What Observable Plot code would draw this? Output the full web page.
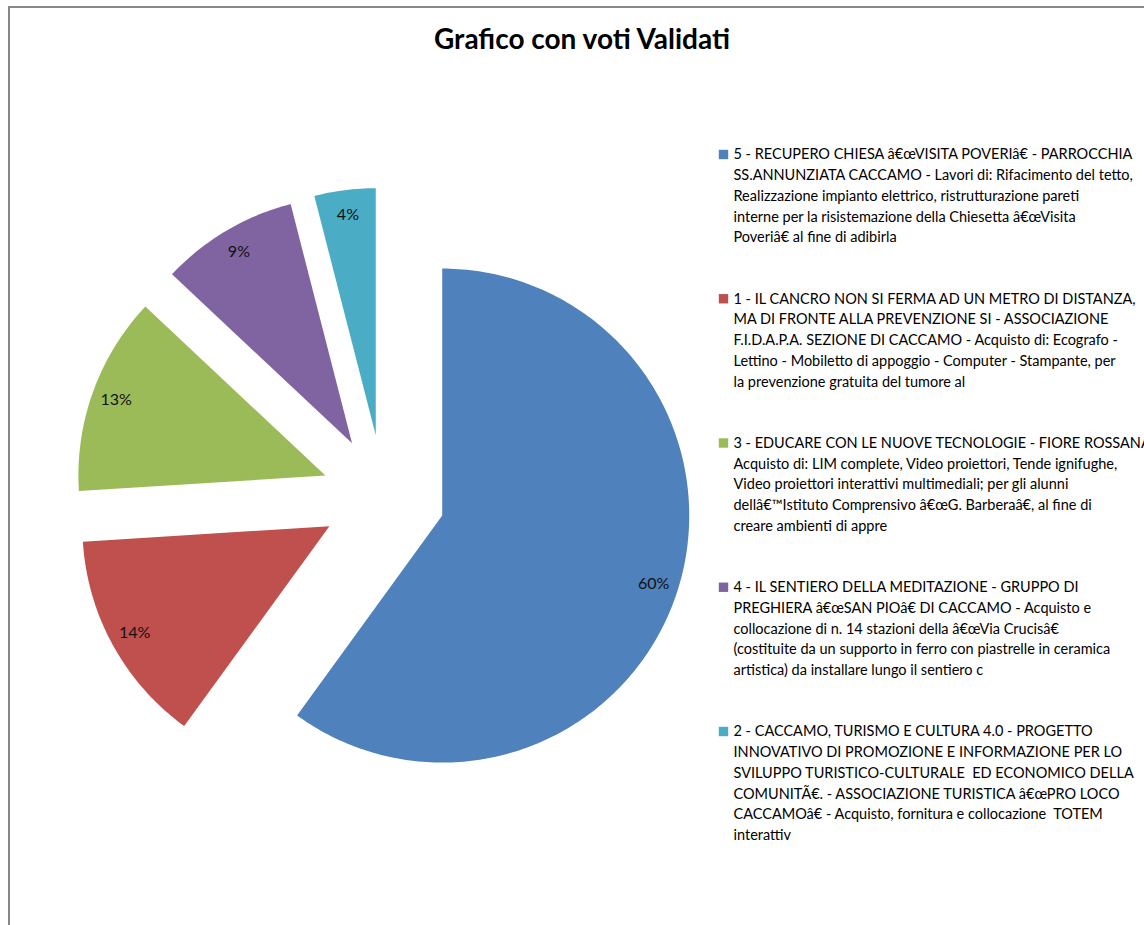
<!DOCTYPE html>
<html>
<head>
<meta charset="utf-8">
<script src="https://cdn.jsdelivr.net/npm/d3@7"></script>
<script src="https://cdn.jsdelivr.net/npm/@observablehq/plot@0.6"></script>
<style>
  html, body { margin: 0; padding: 0; background: #fff; overflow: hidden; }
  #wrap { position: relative; width: 1144px; height: 925px; overflow: hidden; background: #fff; }
  #frame { position: absolute; left: 8px; top: 6px; width: 1400px; height: 1200px; border: 2px solid #878787; box-sizing: border-box; }
  #title { position: absolute; left: 20px; width: 1124px; top: 21px; text-align: center;
           font-family: Lato, "Open Sans", sans-serif; font-weight: bold; font-size: 28px; line-height: 34px; color: #000; }
  #chart { position: absolute; left: 0; top: 70px; }
</style>
</head>
<body>
<div id="wrap">
  <div id="frame"></div>
  <div id="title"></div>
  <div id="chart"></div>
</div>
<script>
// ---- data ----
const title = "Grafico con voti Validati";
const ids = ["5", "1", "3", "4", "2"];
const shares = [60, 14, 13, 9, 4];
const pctLabels = ["60%", "14%", "13%", "9%", "4%"];
const colors = ["#4F81BD", "#C0504D", "#9BBB59", "#8064A2", "#4BACC6"];
const legendLines = [
  ["5 - RECUPERO CHIESA â€œVISITA POVERIâ€ - PARROCCHIA",
   "SS.ANNUNZIATA CACCAMO - Lavori di: Rifacimento del tetto,",
   "Realizzazione impianto elettrico, ristrutturazione pareti",
   "interne per la risistemazione della Chiesetta â€œVisita",
   "Poveriâ€ al fine di adibirla"],
  ["1 - IL CANCRO NON SI FERMA AD UN METRO DI DISTANZA,",
   "MA DI FRONTE ALLA PREVENZIONE SI - ASSOCIAZIONE",
   "F.I.D.A.P.A. SEZIONE DI CACCAMO - Acquisto di: Ecografo -",
   "Lettino - Mobiletto di appoggio - Computer - Stampante, per",
   "la prevenzione gratuita del tumore al"],
  ["3 - EDUCARE CON LE NUOVE TECNOLOGIE - FIORE ROSSANA -",
   "Acquisto di: LIM complete, Video proiettori, Tende ignifughe,",
   "Video proiettori interattivi multimediali; per gli alunni",
   "dellâ€™Istituto Comprensivo â€œG. Barberaâ€, al fine di",
   "creare ambienti di appre"],
  ["4 - IL SENTIERO DELLA MEDITAZIONE - GRUPPO DI",
   "PREGHIERA â€œSAN PIOâ€ DI CACCAMO - Acquisto e",
   "collocazione di n. 14 stazioni della â€œVia Crucisâ€",
   "(costituite da un supporto in ferro con piastrelle in ceramica",
   "artistica) da installare lungo il sentiero c"],
  ["2 - CACCAMO, TURISMO E CULTURA 4.0 - PROGETTO",
   "INNOVATIVO DI PROMOZIONE E INFORMAZIONE PER LO",
   "SVILUPPO TURISTICO-CULTURALE  ED ECONOMICO DELLA",
   "COMUNITÃ€. - ASSOCIAZIONE TURISTICA â€œPRO LOCO",
   "CACCAMOâ€ - Acquisto, fornitura e collocazione  TOTEM",
   "interattiv"]
];

document.getElementById("title").textContent = title;

// ---- layout ----
const W = 1144, H = 855;        // svg size
const R = 247;                  // pie radius in px
const cx = 383, cy = 426;       // pie centre in svg px
const explode = 0.25;           // explosion as fraction of radius
const font = "Lato, 'Open Sans', sans-serif";

const arcs = d3.pie().sort(null).value(d => d)(shares);
const slicePts = [];
const labelPts = [];
arcs.forEach((a, i) => {
  const mid = (a.startAngle + a.endAngle) / 2;
  const ox = explode * Math.sin(mid), oy = explode * Math.cos(mid);
  slicePts.push({id: ids[i], x: ox, y: oy});
  const n = Math.max(8, Math.ceil((a.endAngle - a.startAngle) * 60));
  for (let k = 0; k <= n; ++k) {
    const t = a.startAngle + (a.endAngle - a.startAngle) * k / n;
    slicePts.push({id: ids[i], x: ox + Math.sin(t), y: oy + Math.cos(t)});
  }
  slicePts.push({id: ids[i], x: ox, y: oy});
  labelPts.push({id: ids[i], label: pctLabels[i],
                 x: ox + 0.9 * Math.sin(mid), y: oy + 0.9 * Math.cos(mid)});
});

const legX = 733, legSq = 723, legTop = 74, legStep = 144.25, lineH = 20.8, legFont = 14.5;

const legendMarks = legendLines.flatMap((lines, i) => [
  Plot.dot([ids[i]], {frameAnchor: "top-left", dx: legSq, dy: legTop + 10 + i * legStep,
                      symbol: "square", r: 5.3, fill: d => d, stroke: "none"}),
  Plot.text([lines.join("\n")], {frameAnchor: "top-left", dx: legX, dy: legTop + i * legStep,
                      textAnchor: "start", lineAnchor: "top", lineHeight: lineH / legFont,
                      fontSize: legFont, fontFamily: font, fill: "#000"})
]);

const chart = Plot.plot({
  width: W, height: H, margin: 0,
  x: {domain: [-cx / R, (W - cx) / R], range: [0, W], axis: null},
  y: {domain: [-(H - cy) / R, cy / R], range: [H, 0], axis: null},
  color: {domain: ids, range: colors},
  style: {background: "transparent", overflow: "visible"},
  marks: [
    Plot.line(slicePts, {x: "x", y: "y", z: "id", fill: "id", stroke: "none", curve: "linear"}),
    Plot.text(labelPts, {x: "x", y: "y", text: "label", fontSize: 16, fontFamily: font,
                         fill: "#111", textAnchor: "middle", lineAnchor: "middle"}),
    ...legendMarks
  ]
});
document.getElementById("chart").appendChild(chart);
</script>
</body>
</html>
